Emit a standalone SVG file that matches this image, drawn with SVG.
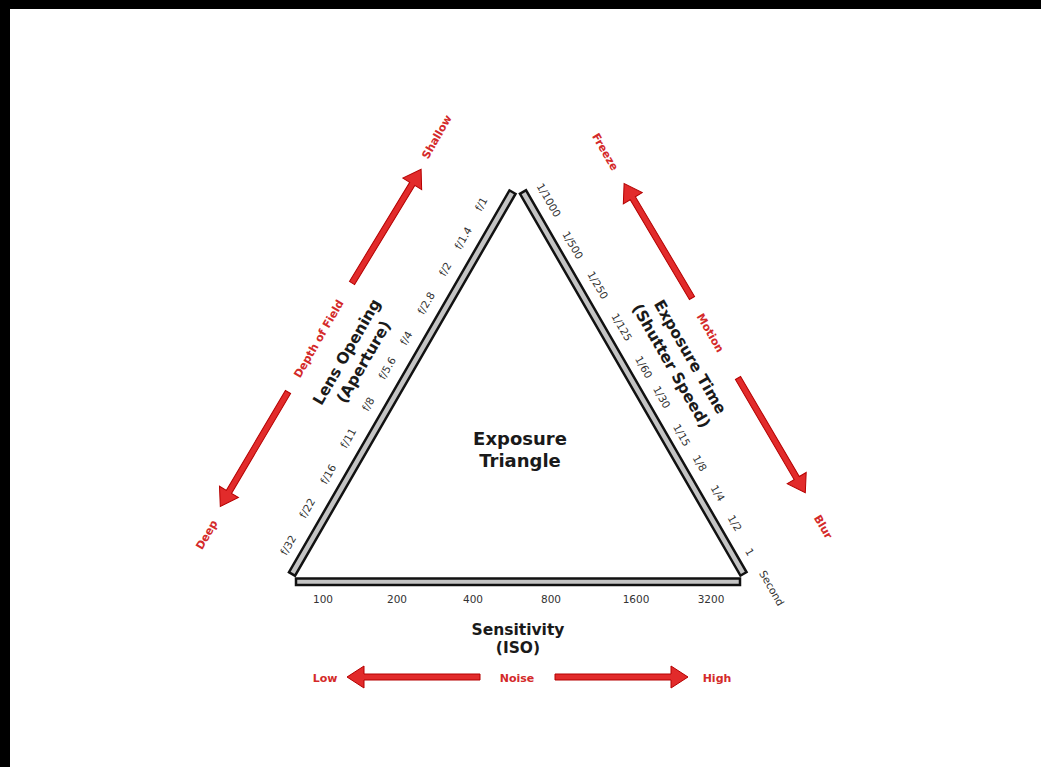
<svg xmlns="http://www.w3.org/2000/svg" xmlns:xlink="http://www.w3.org/1999/xlink" width="1041" height="767" viewBox="0 0 1041 767">
<style>
.bar{fill:#c4c4c4;stroke:#111;stroke-width:2.5}
.tick{font-family:"DejaVu Sans",Verdana,sans-serif;font-size:10.5px;fill:#333;text-anchor:middle;dominant-baseline:central}
.title{font-family:"DejaVu Sans",Verdana,sans-serif;font-size:15.5px;font-weight:bold;fill:#1a1a1a;text-anchor:middle;dominant-baseline:central}
.big{font-size:18px}
.red{font-family:"DejaVu Sans",Verdana,sans-serif;font-size:11px;font-weight:bold;fill:#d42a2a;text-anchor:middle;dominant-baseline:central}
.arrow{fill:#e22b2b;stroke:#b50000;stroke-width:1}
</style>
<defs>
<polygon id="arr" class="arrow" points="0,-3 116,-3 116,-11 133,0 116,11 116,3 0,3"/>
</defs>
<rect width="1041" height="767" fill="#fff"/>
<rect x="0" y="0" width="1041" height="9" fill="#000"/>
<rect x="0" y="0" width="10" height="767" fill="#000"/>

<g id="connectors">
<use xlink:href="#arr" transform="translate(352,283) rotate(-58.7)"/>
<use xlink:href="#arr" transform="translate(288,392) rotate(120.6)"/>
<use xlink:href="#arr" transform="translate(692,298) rotate(-120.7)"/>
<use xlink:href="#arr" transform="translate(738,378) rotate(59.6)"/>
<use xlink:href="#arr" transform="translate(480,677) rotate(180)"/>
<use xlink:href="#arr" transform="translate(555,677)"/>
</g>

<g id="triangle">
<rect class="bar" x="0" y="-3.5" width="441" height="7" transform="translate(292,574) rotate(-60)"/>
<rect class="bar" x="0" y="-3.5" width="441" height="7" transform="translate(523,192) rotate(60)"/>
<rect class="bar" x="296" y="578.5" width="444" height="6.5"/>
</g>

<g id="center-title">
<text class="title big" x="520" y="438">Exposure</text>
<text class="title big" x="520" y="460">Triangle</text>
</g>

<g id="aperture">
<text class="title" transform="translate(347,352) rotate(-60)">Lens Opening</text>
<text class="title" transform="translate(364,362) rotate(-60)">(Aperture)</text>
<text class="tick" transform="translate(288,545) rotate(-60)">f/32</text>
<text class="tick" transform="translate(307,508) rotate(-60)">f/22</text>
<text class="tick" transform="translate(328,474) rotate(-60)">f/16</text>
<text class="tick" transform="translate(348,438) rotate(-60)">f/11</text>
<text class="tick" transform="translate(368,404) rotate(-60)">f/8</text>
<text class="tick" transform="translate(387,368) rotate(-60)">f/5.6</text>
<text class="tick" transform="translate(406,338) rotate(-60)">f/4</text>
<text class="tick" transform="translate(426,303) rotate(-60)">f/2.8</text>
<text class="tick" transform="translate(445,269) rotate(-60)">f/2</text>
<text class="tick" transform="translate(463,238) rotate(-60)">f/1.4</text>
<text class="tick" transform="translate(481,204) rotate(-60)">f/1</text>
<text class="red" transform="translate(319,339) rotate(-60)">Depth of Field</text>
<text class="red" transform="translate(437,137) rotate(-60)">Shallow</text>
<text class="red" transform="translate(207,535) rotate(-60)">Deep</text>
</g>

<g id="shutter">
<text class="title" transform="translate(690,357) rotate(60)">Exposure Time</text>
<text class="title" transform="translate(671,366) rotate(60)">(Shutter Speed)</text>
<text class="tick" transform="translate(549,200) rotate(60)">1/1000</text>
<text class="tick" transform="translate(573,245) rotate(60)">1/500</text>
<text class="tick" transform="translate(598,285) rotate(60)">1/250</text>
<text class="tick" transform="translate(622,327) rotate(60)">1/125</text>
<text class="tick" transform="translate(644,367) rotate(60)">1/60</text>
<text class="tick" transform="translate(662,397) rotate(60)">1/30</text>
<text class="tick" transform="translate(682,435) rotate(60)">1/15</text>
<text class="tick" transform="translate(700,463) rotate(60)">1/8</text>
<text class="tick" transform="translate(718,493) rotate(60)">1/4</text>
<text class="tick" transform="translate(735,523) rotate(60)">1/2</text>
<text class="tick" transform="translate(750,552) rotate(60)">1</text>
<text class="tick" transform="translate(772,588) rotate(60)">Second</text>
<text class="red" transform="translate(710,333) rotate(60)">Motion</text>
<text class="red" transform="translate(605,152) rotate(60)">Freeze</text>
<text class="red" transform="translate(823,527) rotate(60)">Blur</text>
</g>

<g id="iso">
<text class="tick" x="323" y="599">100</text>
<text class="tick" x="397" y="599">200</text>
<text class="tick" x="473" y="599">400</text>
<text class="tick" x="551" y="599">800</text>
<text class="tick" x="636" y="599">1600</text>
<text class="tick" x="711" y="599">3200</text>
<text class="title" x="518" y="630">Sensitivity</text>
<text class="title" x="518" y="648">(ISO)</text>
<text class="red" x="325" y="678">Low</text>
<text class="red" x="517" y="678">Noise</text>
<text class="red" x="717" y="678">High</text>
</g>
</svg>
